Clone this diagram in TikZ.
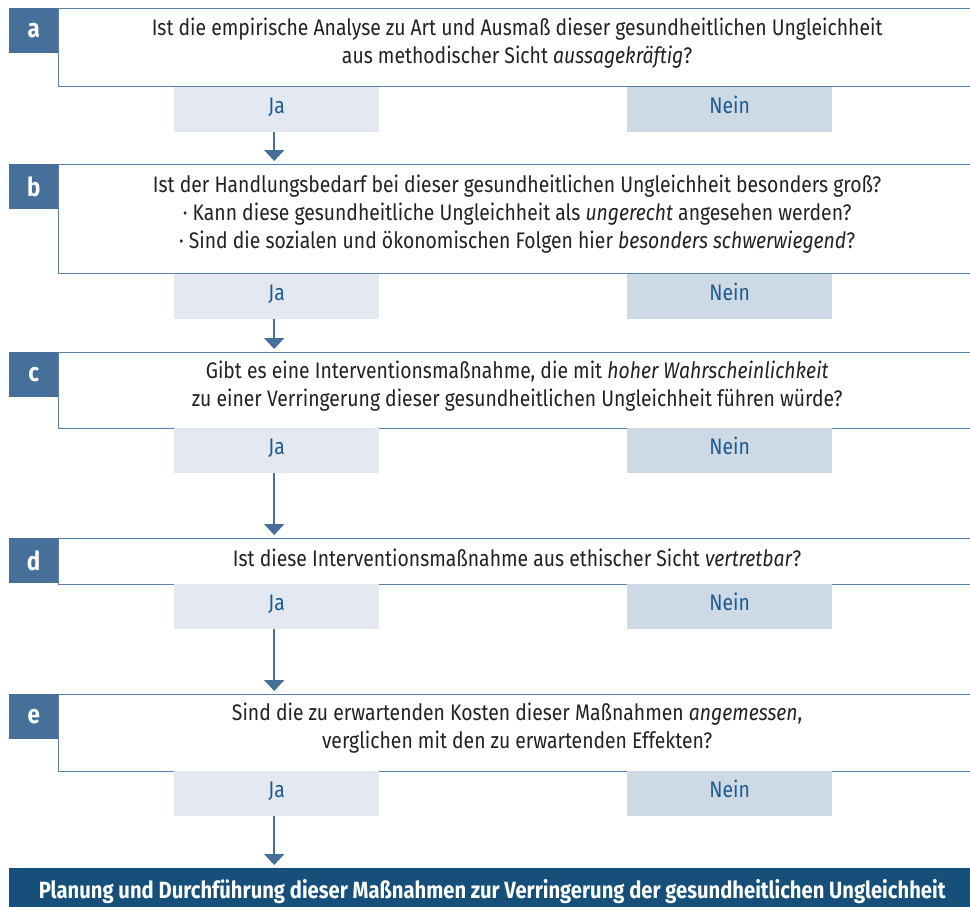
\documentclass[tikz,border=0pt]{standalone}
\usepackage{fontspec}
\setmainfont[FakeStretch=0.86]{Fira Sans}
\usetikzlibrary{arrows.meta,calc}
\definecolor{lblblue}{HTML}{46709A}
\definecolor{bordblue}{HTML}{5A80A8}
\definecolor{jafill}{HTML}{E3E8F1}
\definecolor{neinfill}{HTML}{CDD9E4}
\definecolor{jatext}{HTML}{1D5B8E}
\definecolor{darkbox}{HTML}{16507A}
\definecolor{txt}{HTML}{222222}
\newcommand{\topstr}{\rule{0pt}{18pt}}
\newcommand{\botstr}[1]{\rule[-#1]{0pt}{0pt}}
\begin{document}
\begin{tikzpicture}[x=1pt,y=1pt,
  lbl/.style={fill=lblblue, text=white, anchor=north west, minimum width=49pt, minimum height=45pt, inner sep=0pt, font=\fontsize{26}{30}\selectfont\bfseries},
  qbox/.style={draw=bordblue, line width=1.3pt, fill=white, anchor=north west, minimum width=917pt, inner sep=0pt, align=center, text=txt, font=\fontsize{22.5}{28}\selectfont},
  jabox/.style={fill=jafill, anchor=north west, minimum width=205pt, minimum height=45pt, inner sep=0pt, text height=15.5pt, text depth=8pt, text=jatext, font=\fontsize{22.5}{28}\selectfont},
  neinbox/.style={jabox, fill=neinfill},
  arr/.style={draw=lblblue, line width=2pt, -{Triangle[width=20pt,length=11pt]}, shorten >=3pt},
  final/.style={fill=darkbox, text=white, anchor=north west, minimum width=966pt, minimum height=48pt, inner sep=0pt, text height=18pt, text depth=5pt, font=\fontsize{23.5}{28}\selectfont\bfseries}
]
\useasboundingbox (0,0) rectangle (970,-906);

% a
\node[qbox, minimum height=78pt] (qa) at (58,-8) {\topstr Ist die empirische Analyse zu Art und Ausmaß dieser gesundheitlichen Ungleichheit\\ aus methodischer Sicht \textit{aussagekräftig}?\botstr{14pt}};
\node[lbl] (la) at (9,-8) {a};
\node[jabox] (ja1) at (174,-87) {Ja};
\node[neinbox] (ne1) at (627,-87) {Nein};

% b
\node[qbox, minimum height=109pt] (qb) at (58,-164) {\topstr Ist der Handlungsbedarf bei dieser gesundheitlichen Ungleichheit besonders groß?\\ · Kann diese gesundheitliche Ungleichheit als \textit{ungerecht} angesehen werden?\\ · Sind die sozialen und ökonomischen Folgen hier \textit{besonders schwerwiegend}?\botstr{15pt}};
\node[lbl] (lb) at (9,-164) {b};
\node[jabox] (ja2) at (174,-274) {Ja};
\node[neinbox] (ne2) at (627,-274) {Nein};

% c
\node[qbox, minimum height=76pt] (qc) at (58,-352) {\topstr Gibt es eine Interventionsmaßnahme, die mit \textit{hoher Wahrscheinlichkeit}\\ zu einer Verringerung dieser gesundheitlichen Ungleichheit führen würde?\botstr{14pt}};
\node[lbl] (lc) at (9,-352) {c};
\node[jabox] (ja3) at (174,-428) {Ja};
\node[neinbox] (ne3) at (627,-428) {Nein};

% d
\node[qbox, minimum height=46pt] (qd) at (58,-538) {\topstr Ist diese Interventionsmaßnahme aus ethischer Sicht \textit{vertretbar}?\botstr{8pt}};
\node[lbl] (ld) at (9,-538) {d};
\node[jabox] (ja4) at (174,-584) {Ja};
\node[neinbox] (ne4) at (627,-584) {Nein};

% e
\node[qbox, minimum height=77pt] (qe) at (58,-694) {\topstr Sind die zu erwartenden Kosten dieser Maßnahmen \textit{angemessen},\\ verglichen mit den zu erwartenden Effekten?\botstr{16pt}};
\node[lbl] (le) at (9,-694) {e};
\node[jabox] (ja5) at (174,-771) {Ja};
\node[neinbox] (ne5) at (627,-771) {Nein};

% final
\node[final] (fin) at (9,-868) {Planung und Durchführung dieser Maßnahmen zur Verringerung der gesundheitlichen Ungleichheit};

% arrows
\draw[arr] ([xshift=-2.5pt]ja1.south) -- ([xshift=-2.5pt]ja1.south |- qb.north);
\draw[arr] ([xshift=-2.5pt]ja2.south) -- ([xshift=-2.5pt]ja2.south |- qc.north);
\draw[arr] ([xshift=-2.5pt]ja3.south) -- ([xshift=-2.5pt]ja3.south |- qd.north);
\draw[arr] ([xshift=-2.5pt]ja4.south) -- ([xshift=-2.5pt]ja4.south |- qe.north);
\draw[arr] ([xshift=-2.5pt]ja5.south) -- ([xshift=-2.5pt]ja5.south |- fin.north);
\end{tikzpicture}
\end{document}
